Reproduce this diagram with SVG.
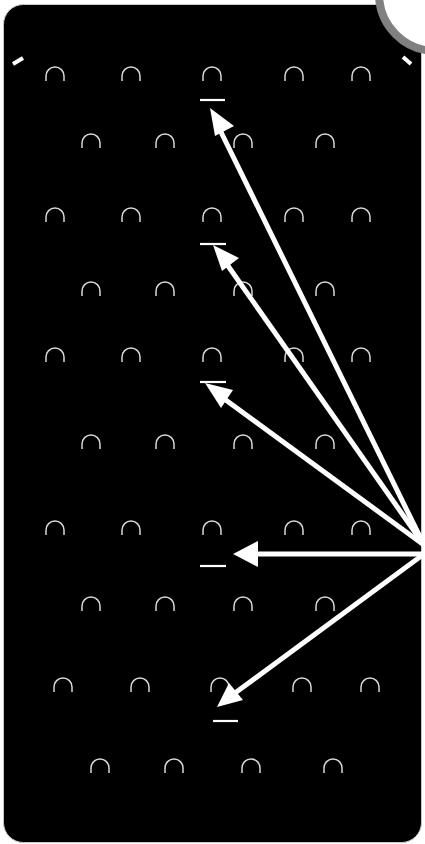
<svg xmlns="http://www.w3.org/2000/svg" width="425" height="844" viewBox="0 0 425 844">
<defs>
<style>
.arc{fill:none;stroke:#d8d8d8;stroke-width:1.5}
.bar{stroke:#fff;stroke-width:2.2}
.ar{stroke:#fff;stroke-width:5;fill:none}
.tick{stroke:#fff;stroke-width:4}
</style>
<path id="a" d="M-9,5 V0 A9,9 0 0 1 9,0 V5" class="arc"/>
</defs>
<rect x="0" y="0" width="425" height="844" fill="#fff"/>
<rect id="board" x="3.5" y="4.5" width="418" height="838" rx="20" fill="#000" stroke="#c8c8c8" stroke-width="1"/>
<g id="corner-circle"><circle cx="436" cy="-6" r="57" fill="#fff" stroke="#808080" stroke-width="8"/></g>
<g id="ticks">
<line class="tick" x1="13" y1="64" x2="23" y2="58"/>
<line class="tick" x1="403" y1="57" x2="411" y2="64"/>
</g>
<g id="arcs">
<use href="#a" x="55" y="76"/><use href="#a" x="131" y="76"/><use href="#a" x="212" y="76"/><use href="#a" x="294" y="76"/><use href="#a" x="361" y="76"/>
<use href="#a" x="91" y="143"/><use href="#a" x="165" y="143"/><use href="#a" x="243" y="143"/><use href="#a" x="325" y="143"/>
<use href="#a" x="55" y="217"/><use href="#a" x="131" y="217"/><use href="#a" x="212" y="217"/><use href="#a" x="294" y="217"/><use href="#a" x="361" y="217"/>
<use href="#a" x="91" y="291"/><use href="#a" x="165" y="291"/><use href="#a" x="243" y="291"/><use href="#a" x="325" y="291"/>
<use href="#a" x="55" y="357"/><use href="#a" x="131" y="357"/><use href="#a" x="212" y="357"/><use href="#a" x="294" y="357"/><use href="#a" x="361" y="357"/>
<use href="#a" x="91" y="444"/><use href="#a" x="165" y="444"/><use href="#a" x="243" y="444"/><use href="#a" x="325" y="444"/>
<use href="#a" x="55" y="530"/><use href="#a" x="131" y="530"/><use href="#a" x="212" y="530"/><use href="#a" x="294" y="530"/><use href="#a" x="361" y="530"/>
<use href="#a" x="91" y="606"/><use href="#a" x="165" y="606"/><use href="#a" x="243" y="606"/><use href="#a" x="325" y="606"/>
<use href="#a" x="63" y="687"/><use href="#a" x="140" y="687"/><use href="#a" x="220" y="687"/><use href="#a" x="302" y="687"/><use href="#a" x="370" y="687"/>
<use href="#a" x="100" y="768"/><use href="#a" x="174" y="768"/><use href="#a" x="251" y="768"/><use href="#a" x="333" y="768"/>
</g>
<g id="bars">
<line class="bar" x1="200" y1="100" x2="225" y2="100"/>
<line class="bar" x1="200" y1="244" x2="226" y2="244"/>
<line class="bar" x1="200" y1="382" x2="226" y2="382"/>
<line class="bar" x1="200" y1="566" x2="226" y2="566"/>
<line class="bar" x1="213" y1="721" x2="238" y2="721"/>
</g>
<g id="connectors">
<line class="ar" x1="424" y1="545" x2="220" y2="130"/>
<polygon fill="#fff" points="210,108 234,126 215,136"/>
<line class="ar" x1="424" y1="545" x2="226" y2="263"/>
<polygon fill="#fff" points="213,245 239,258 222,271"/>
<line class="ar" x1="424" y1="545" x2="223" y2="398"/>
<polygon fill="#fff" points="205,383 233,390 221,408"/>
<line class="ar" x1="424" y1="554" x2="255" y2="554"/>
<polygon fill="#fff" points="233,554 258,541 258,567"/>
<line class="ar" x1="424" y1="554" x2="235" y2="693"/>
<polygon fill="#fff" points="217,707 229,683 243,700"/>
</g>
</svg>
